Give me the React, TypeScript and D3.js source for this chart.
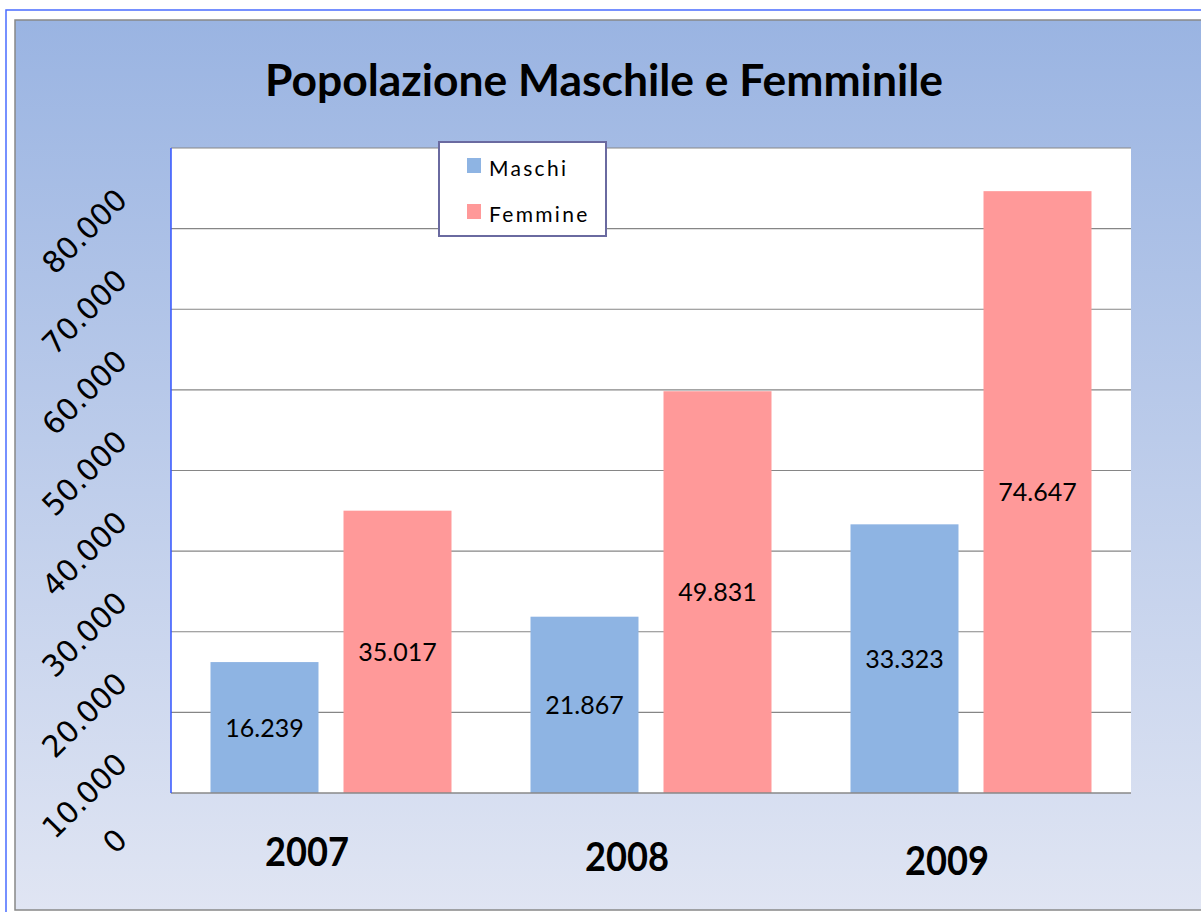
import React from "react";
import * as d3 from "d3";

// data
const categories = ["2007", "2008", "2009"];
const seriesNames = ["Maschi", "Femmine"];
const maschi = [16239, 21867, 33323];
const femmine = [35017, 49831, 74647];
const yTicks = [0, 10000, 20000, 30000, 40000, 50000, 60000, 70000, 80000];
const title = "Popolazione Maschile e Femminile";

const colors = ["#8eb4e3", "#ff9999"];

const W = 1201;
const H = 912;
const plot = { left: 171, top: 148, right: 1131, bottom: 793 };

const it = d3.formatLocale({
  decimal: ",",
  thousands: ".",
  grouping: [3],
  currency: ["€", ""],
});
const fmt = it.format(",");

const App: React.FC = () => {
  const x0 = d3
    .scaleBand<string>()
    .domain(categories)
    .range([plot.left, plot.right])
    .padding(0);

  const x1 = d3
    .scaleBand<string>()
    .domain(seriesNames)
    .range([0, x0.bandwidth()])
    .paddingInner(0.188)
    .paddingOuter(0.297);

  const y = d3.scaleLinear().domain([0, 80000]).range([plot.bottom, plot.top]);

  const rows = categories.map((c, i) => ({
    cat: c,
    values: [maschi[i], femmine[i]],
  }));

  // tick labels sit one step below their gridline, as in the original
  const step = y(0) - y(10000);

  return (
    <svg
      width={W}
      height={H}
      style={{ position: "absolute", left: 0, top: 0, display: "block" }}
    >
      <defs>
        <linearGradient id="bg" x1="0" y1="0" x2="0" y2="1">
          <stop offset="0%" stopColor="#9ab4e2" />
          <stop offset="100%" stopColor="#e0e5f3" />
        </linearGradient>
      </defs>

      <rect x={0} y={0} width={W} height={H} fill="#ffffff" />
      {/* outer frame */}
      <rect
        x={6}
        y={10}
        width={W + 20}
        height={H + 20}
        fill="#ffffff"
        stroke="#4a6cff"
        strokeWidth={1.5}
      />
      {/* chart area */}
      <rect
        x={15}
        y={20}
        width={W + 10}
        height={890}
        fill="url(#bg)"
        stroke="#888888"
        strokeWidth={1.5}
      />

      <text
        x={604}
        y={96}
        textAnchor="middle"
        fontFamily="Lato, 'Open Sans', sans-serif"
        fontWeight="bold"
        fontSize={44}
        textLength={678}
        lengthAdjust="spacingAndGlyphs"
        fill="#000"
      >
        {title}
      </text>

      {/* plot area */}
      <rect
        x={plot.left}
        y={plot.top}
        width={plot.right - plot.left}
        height={plot.bottom - plot.top}
        fill="#ffffff"
      />
      <line
        x1={plot.left}
        x2={plot.right}
        y1={plot.top}
        y2={plot.top}
        stroke="#888888"
        strokeWidth={1.2}
      />
      {yTicks.slice(1, -1).map((t) => (
        <line
          key={t}
          x1={plot.left}
          x2={plot.right}
          y1={y(t)}
          y2={y(t)}
          stroke="#868686"
          strokeWidth={1.2}
        />
      ))}

      {rows.map((r) =>
        r.values.map((v, j) => {
          const bx = (x0(r.cat) || 0) + (x1(seriesNames[j]) || 0);
          return (
            <g key={r.cat + j}>
              <rect
                x={bx}
                y={y(v)}
                width={x1.bandwidth()}
                height={y(0) - y(v)}
                fill={colors[j]}
              />
              <text
                x={bx + x1.bandwidth() / 2}
                y={(y(v) + y(0)) / 2 + 9}
                textAnchor="middle"
                fontFamily="Lato, sans-serif"
                fontSize={25}
                fill="#000"
              >
                {fmt(v)}
              </text>
            </g>
          );
        })
      )}

      {/* axes lines */}
      <line
        x1={plot.left}
        x2={plot.right}
        y1={plot.bottom}
        y2={plot.bottom}
        stroke="#888888"
        strokeWidth={1.5}
      />
      <line
        x1={plot.left}
        x2={plot.left}
        y1={plot.top}
        y2={plot.bottom}
        stroke="#3355ff"
        strokeWidth={1.5}
      />

      {yTicks.map((t) => {
        const ax = 129;
        const ay = t === 0 ? y(t) + step - 32 : y(t) + step - 27;
        return (
          <text
            key={t}
            transform={`translate(${ax},${ay}) rotate(-45)`}
            textAnchor="end"
            fontFamily="'DejaVu Sans', Verdana, sans-serif"
            fontSize={30}
            fill="#000"
          >
            {fmt(t)}
          </text>
        );
      })}

      {categories.map((c, i) => (
        <text
          key={c}
          x={(x0(c) || 0) + x0.bandwidth() / 2 - 24}
          y={866 + i * 4.5}
          textAnchor="middle"
          fontFamily="Lato, sans-serif"
          fontWeight="bold"
          fontSize={41}
          textLength={84}
          lengthAdjust="spacingAndGlyphs"
          fill="#000"
        >
          {c}
        </text>
      ))}

      {/* legend */}
      <g transform="translate(439,142)">
        <rect
          x={0}
          y={0}
          width={167}
          height={94}
          fill="#ffffff"
          stroke="#6a6aa0"
          strokeWidth={2}
        />
        {seriesNames.map((s, i) => (
          <g key={s} transform={`translate(28,${16 + i * 46})`}>
            <rect x={0} y={0} width={14} height={15} fill={colors[i]} />
            <text
              x={22}
              y={18}
              fontFamily="Lato, sans-serif"
              fontSize={21}
              letterSpacing={2.3}
              fill="#000"
            >
              {s}
            </text>
          </g>
        ))}
      </g>
    </svg>
  );
};

export default App;
